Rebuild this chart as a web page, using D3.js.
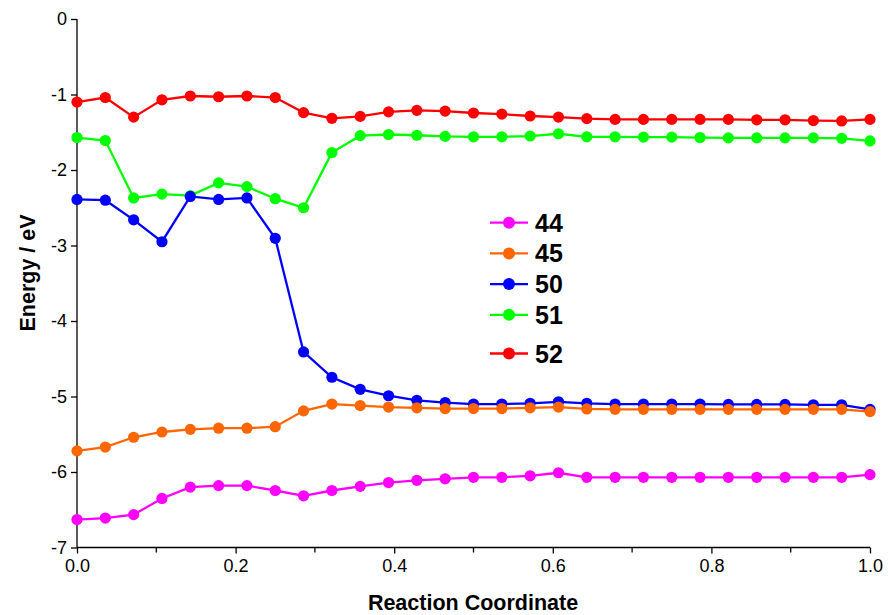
<!DOCTYPE html>
<html>
<head>
<meta charset="utf-8">
<script src="https://cdn.jsdelivr.net/npm/d3@7/dist/d3.min.js"></script>
<style>
  html, body { margin: 0; padding: 0; background: #fff; }
  svg { display: block; font-family: "Liberation Sans", Arial, sans-serif; }
</style>
</head>
<body>
<svg id="chart" width="888" height="615"></svg>
<script>
// ---- Data ----
const xValues = d3.range(29).map(i => i / 28); // reaction coordinate steps (29 images)
const seriesNames = ["52", "51", "50", "45", "44"];
const seriesColors = ["#FF0000", "#00FF00", "#0000FF", "#FF6600", "#FF00FF"];
const s52 = [-1.10, -1.04, -1.30, -1.07, -1.02, -1.03, -1.02, -1.04, -1.24, -1.315, -1.29, -1.23, -1.21, -1.22, -1.245, -1.26, -1.285, -1.30, -1.32, -1.33, -1.33, -1.33, -1.33, -1.33, -1.335, -1.335, -1.345, -1.35, -1.33];
const s51 = [-1.57, -1.61, -2.37, -2.32, -2.34, -2.17, -2.22, -2.38, -2.50, -1.77, -1.545, -1.53, -1.54, -1.555, -1.56, -1.56, -1.55, -1.52, -1.56, -1.56, -1.565, -1.565, -1.57, -1.575, -1.575, -1.575, -1.575, -1.58, -1.615];
const s50 = [-2.39, -2.40, -2.66, -2.95, -2.35, -2.39, -2.37, -2.905, -4.41, -4.745, -4.905, -4.99, -5.05, -5.08, -5.10, -5.10, -5.09, -5.07, -5.09, -5.10, -5.10, -5.10, -5.10, -5.105, -5.105, -5.105, -5.11, -5.11, -5.17];
const s45 = [-5.72, -5.67, -5.54, -5.47, -5.435, -5.42, -5.42, -5.40, -5.19, -5.10, -5.12, -5.14, -5.15, -5.16, -5.16, -5.16, -5.15, -5.14, -5.165, -5.17, -5.17, -5.17, -5.17, -5.17, -5.17, -5.17, -5.17, -5.17, -5.20];
const s44 = [-6.63, -6.61, -6.565, -6.35, -6.20, -6.18, -6.18, -6.245, -6.315, -6.245, -6.19, -6.14, -6.11, -6.09, -6.07, -6.07, -6.05, -6.01, -6.07, -6.07, -6.07, -6.07, -6.07, -6.07, -6.07, -6.07, -6.07, -6.07, -6.035];
const seriesValues = [s52, s51, s50, s45, s44];
const legendOrder = ["44", "45", "50", "51", "52"];
const xTicks = [0, 0.2, 0.4, 0.6, 0.8, 1.0];
const xMinorTicks = [0.1, 0.3, 0.5, 0.7, 0.9];
const yTicks = [0, -1, -2, -3, -4, -5, -6, -7];
const xTitle = "Reaction Coordinate";
const yTitle = "Energy / eV";

// ---- Layout ----
const svg = d3.select("#chart");
const x = d3.scaleLinear().domain([0, 1]).range([77, 870]);
const y = d3.scaleLinear().domain([-7, 0]).range([547.5, 19]);

// Axes
const xAxis = d3.axisBottom(x).tickValues(xTicks).tickFormat(d3.format(".1f")).tickSize(6).tickPadding(6);
const gx = svg.append("g").attr("transform", `translate(0,${y(-7)})`).call(xAxis);
gx.select(".domain").attr("stroke", "#000").attr("stroke-width", 1.3).attr("d", `M${x(0)},0H${x(1)}`);
gx.selectAll(".tick line").attr("stroke", "#000").attr("stroke-width", 1.3);
gx.selectAll(".tick text").attr("font-size", 18).attr("fill", "#000")
  .attr("font-family", "'Liberation Sans', Arial, sans-serif");
const gxm = svg.append("g").attr("transform", `translate(0,${y(-7)})`);
gxm.selectAll("line").data(xMinorTicks).join("line")
  .attr("x1", d => x(d)).attr("x2", d => x(d)).attr("y1", 0).attr("y2", 5)
  .attr("stroke", "#000").attr("stroke-width", 1.3);

const yAxis = d3.axisLeft(y).tickValues(yTicks).tickFormat(d3.format("d")).tickSize(6).tickPadding(4);
const gy = svg.append("g").attr("transform", `translate(${x(0)},0)`).call(yAxis);
gy.select(".domain").attr("stroke", "#000").attr("stroke-width", 1.3).attr("d", `M0,${y(0)}V${y(-7)}`);
gy.selectAll(".tick line").attr("stroke", "#000").attr("stroke-width", 1.3);
gy.selectAll(".tick text").attr("font-size", 18).attr("fill", "#000")
  .attr("font-family", "'Liberation Sans', Arial, sans-serif")
  .text(d => d === 0 ? "0" : String(d));

// Titles
svg.append("text").attr("x", 473).attr("y", 610).attr("text-anchor", "middle")
  .attr("font-size", 21.5).attr("font-weight", "bold").text(xTitle);
svg.append("text").attr("transform", "translate(35,273) rotate(-90)").attr("text-anchor", "middle")
  .attr("font-size", 21.5).attr("font-weight", "bold").text(yTitle);

// Series
const line = d3.line().x((d, i) => x(xValues[i])).y(d => y(d));
seriesNames.forEach((name, k) => {
  const vals = seriesValues[k];
  const g = svg.append("g");
  g.append("path").datum(vals).attr("d", line).attr("fill", "none")
    .attr("stroke", seriesColors[k]).attr("stroke-width", 2.3);
  g.selectAll("circle").data(vals).join("circle")
    .attr("cx", (d, i) => x(xValues[i])).attr("cy", d => y(d)).attr("r", 5.6)
    .attr("fill", seriesColors[k]);
});

// Legend
const lg = svg.append("g");
legendOrder.forEach((name, i) => {
  const k = seriesNames.indexOf(name);
  const ry = 222.7 + i * 30.7 + (i === 4 ? 8 : 0);
  lg.append("line").attr("x1", 490).attr("x2", 528).attr("y1", ry).attr("y2", ry)
    .attr("stroke", seriesColors[k]).attr("stroke-width", 2.3);
  lg.append("circle").attr("cx", 509).attr("cy", ry).attr("r", 6).attr("fill", seriesColors[k]);
  lg.append("text").attr("x", 535).attr("y", ry).attr("dy", "0.36em")
    .attr("font-size", 25).attr("font-weight", "bold").text(name);
});
</script>
</body>
</html>
